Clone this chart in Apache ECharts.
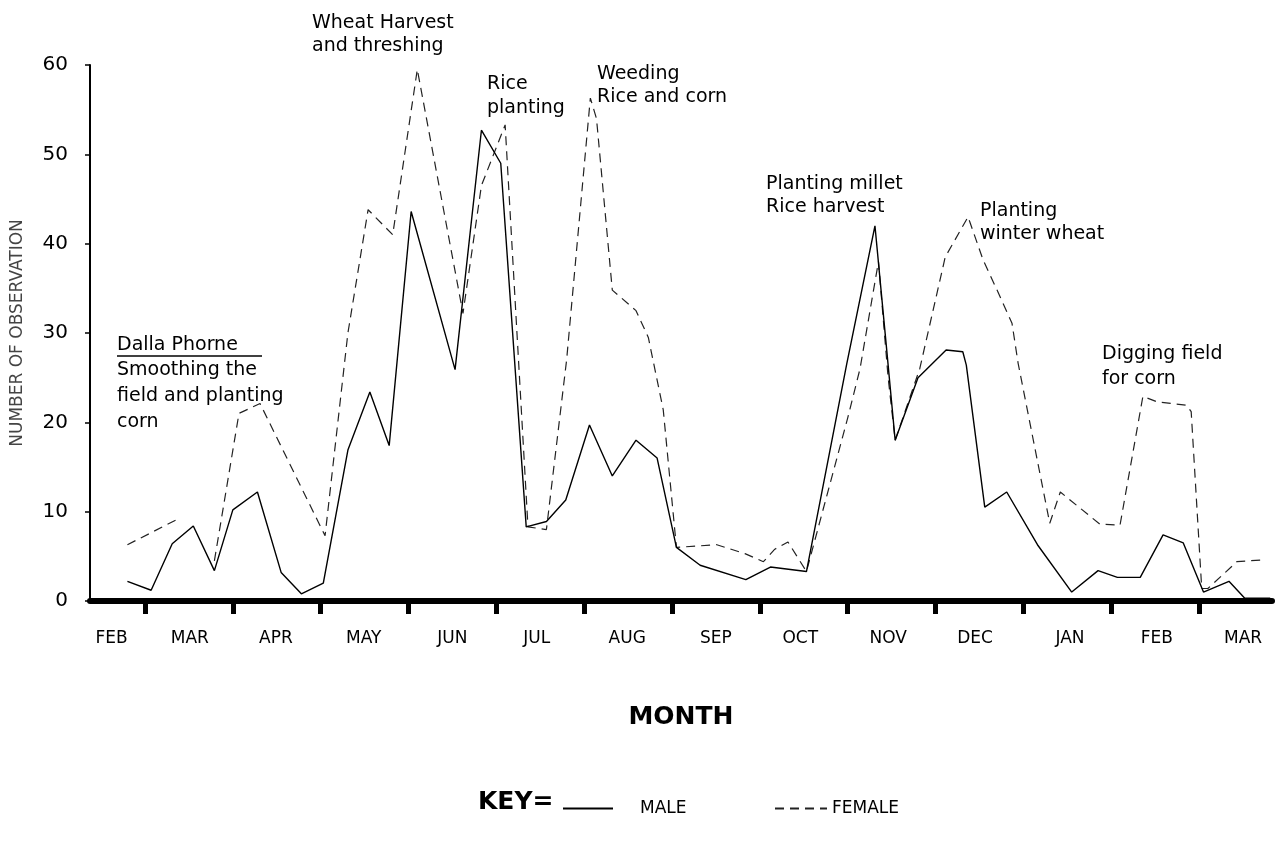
<!DOCTYPE html>
<html>
<head>
<meta charset="utf-8">
<script src="https://cdn.jsdelivr.net/npm/echarts@6/dist/echarts.min.js"></script>
<style>
html,body{margin:0;padding:0;background:#fff;}
#chart{width:1286px;height:844px;}
</style>
</head>
<body>
<div id="chart"></div>
<script>
// Month labels (positions in months; 1 = start of first MAR boundary tick)
const monthNames = ['FEB','MAR','APR','MAY','JUN','JUL','AUG','SEP','OCT','NOV','DEC','JAN','FEB','MAR'];
const monthLabelPos = [0.62,1.51,2.49,3.49,4.50,5.46,6.49,7.50,8.46,9.46,10.45,11.53,12.52,13.50];
const monthBoundaries = [1,2,3,4,5,6,7,8,9,10,11,12,13];
const yTicks = [0,10,20,30,40,50,60];

// MALE (solid) — x in months, y = number of observations
const maleX = [0.80,1.07,1.31,1.55,1.79,2.00,2.28,2.55,2.78,3.03,3.31,3.56,3.78,4.03,4.53,4.83,5.05,5.34,5.57,5.79,6.06,6.32,6.59,6.83,7.05,7.32,7.84,8.12,8.53,8.99,9.31,9.44,9.54,9.80,10.12,10.31,10.35,10.56,10.81,11.16,11.55,11.85,12.07,12.33,12.59,12.82,13.05,13.34,13.52,13.81];
const maleY = [2.2,1.2,6.4,8.4,3.4,10.2,12.2,3.2,0.8,2.0,16.9,23.4,17.4,43.6,25.9,52.7,49.0,8.3,8.9,11.3,19.7,14.0,18.0,16.0,6.0,4.0,2.4,3.8,3.3,26.6,42.0,28.5,18.0,25.0,28.1,27.9,26.4,10.5,12.2,6.3,1.0,3.4,2.65,2.65,7.4,6.5,1.0,2.2,0.3,0.3];

// FEMALE (dashed)
const femaleX = [0.80,1.36,1.55,1.79,2.07,2.31,3.05,3.31,3.54,3.82,4.10,4.62,4.83,5.10,5.36,5.57,5.80,6.07,6.14,6.32,6.59,6.73,6.90,7.05,7.51,7.83,8.04,8.17,8.32,8.53,9.00,9.14,9.35,9.46,9.54,9.82,10.11,10.37,10.54,10.70,10.87,10.94,11.30,11.42,11.87,12.10,12.36,12.52,12.86,12.91,13.03,13.10,13.43,13.72];
const femaleY = [6.3,9.1,null,4.5,21.0,22.1,7.3,30.0,43.8,41.0,59.5,32.2,46.5,53.3,8.3,8.0,27.0,56.3,54.0,34.8,32.5,29.5,21.4,6.0,6.3,5.3,4.4,5.8,6.6,3.3,20.5,26.0,38.0,25.0,18.0,26.0,38.5,43.0,38.2,34.8,31.1,26.6,8.7,12.2,8.6,8.5,22.9,22.3,21.9,21.2,1.4,1.4,4.4,4.6];

// Annotations
const annotations = [
  'Wheat Harvest\nand threshing',
  'Rice\nplanting',
  'Weeding\nRice and corn',
  'Planting millet\nRice harvest',
  'Planting\nwinter wheat',
  'Digging field\nfor corn',
  'Dalla Phorne',
  'Smoothing the\nfield and planting\ncorn'
];

const FONT = '"DejaVu Sans", "Liberation Sans", sans-serif';
const pair = (xs, ys) => xs.map((x, i) => [x, ys[i]]);
const labelMap = {};
monthLabelPos.forEach((p, i) => { labelMap[p.toFixed(2)] = monthNames[i]; });

const chart = echarts.init(document.getElementById('chart'), null, {renderer: 'canvas'});

const annFont = '19px ' + FONT;
const annPos = [
  {left: 312, top: 12, lh: 23},
  {left: 487, top: 72, lh: 24},
  {left: 597, top: 63, lh: 23},
  {left: 766, top: 173, lh: 23},
  {left: 980, top: 200, lh: 23},
  {left: 1102, top: 342, lh: 25},
  {left: 117, top: 333, lh: 24},
  {left: 117, top: 357, lh: 26}
];

const graphics = annotations.map((t, i) => ({
  type: 'text', left: annPos[i].left, top: annPos[i].top,
  style: {text: t, font: annFont, fill: '#000', lineHeight: annPos[i].lh}
}));
graphics.push({type: 'line', shape: {x1: 117, y1: 356, x2: 262, y2: 356}, style: {stroke: '#000', lineWidth: 1.5}});
graphics.push({type: 'text', left: 478, top: 790, style: {text: 'KEY=', font: 'bold 25px ' + FONT, fill: '#000'}});

const option = {
  backgroundColor: '#fff',
  animation: false,
  grid: {left: 90, right: 14, top: 65, bottom: 243, containLabel: false},
  legend: [
    {data: [{name: 'MALE', textStyle: {padding: [0, 0, 0, 22]}}], left: 557, top: 795, itemWidth: 50, itemHeight: 12,
     itemStyle: {opacity: 0}, textStyle: {fontFamily: FONT, fontSize: 17, color: '#000'}},
    {data: [{name: 'FEMALE', textStyle: {padding: [0, 0, 0, 0]}}], left: 769, top: 795, itemWidth: 52, itemHeight: 12,
     itemStyle: {opacity: 0}, textStyle: {fontFamily: FONT, fontSize: 17, color: '#000'}}
  ],
  xAxis: {
    type: 'value', min: 0.374, max: 13.83,
    name: 'MONTH', nameLocation: 'middle', nameGap: 104,
    nameTextStyle: {fontFamily: FONT, fontSize: 25, fontWeight: 'bold', color: '#000'},
    axisLine: {show: true, onZero: false, lineStyle: {color: '#000', width: 6}},
    axisTick: {show: true, customValues: monthBoundaries, length: 13, lineStyle: {color: '#000', width: 5}},
    axisLabel: {show: true, customValues: monthLabelPos, margin: 29,
      fontFamily: FONT, fontSize: 17, color: '#000',
      formatter: v => labelMap[Number(v).toFixed(2)] || ''},
    splitLine: {show: false}
  },
  yAxis: {
    type: 'value', min: 0, max: 60, interval: 10,
    name: 'NUMBER OF OBSERVATION', nameLocation: 'middle', nameGap: 64, nameRotate: 90,
    nameTextStyle: {fontFamily: FONT, fontSize: 17, color: '#444'},
    axisLine: {show: true, lineStyle: {color: '#000', width: 2}},
    axisTick: {show: true, length: 5, lineStyle: {color: '#000', width: 1.5}},
    axisLabel: {show: true, margin: 22, fontFamily: FONT, fontSize: 20, color: '#000',
      customValues: yTicks},
    splitLine: {show: false}
  },
  series: [
    {name: 'MALE', type: 'line', data: pair(maleX, maleY), symbol: 'none', showSymbol: false,
     lineStyle: {color: '#000', width: 1.4, type: 'solid'}, itemStyle: {color: '#000'}, z: 3},
    {name: 'FEMALE', type: 'line', data: pair(femaleX, femaleY), symbol: 'none', showSymbol: false, connectNulls: false,
     lineStyle: {color: '#222', width: 1.2, type: [9, 6]}, itemStyle: {color: '#222'}, z: 2}
  ],
  graphic: graphics
};
chart.setOption(option);
</script>
</body>
</html>
